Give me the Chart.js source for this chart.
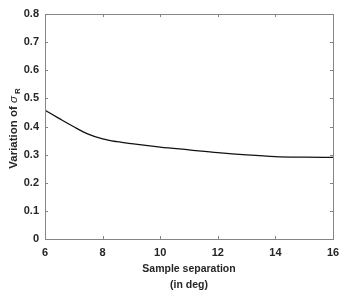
<!DOCTYPE html>
<html>
<head>
<meta charset="utf-8">
<script src="https://cdn.jsdelivr.net/npm/chart.js@4.4.0/dist/chart.umd.min.js"></script>
<style>
  html, body { margin: 0; padding: 0; background: #fff; }
  #wrap { width: 356px; height: 303px; position: relative; }
</style>
</head>
<body>
<div id="wrap"><canvas id="chart"></canvas></div>
<script>
// values
const separation = [6, 6.5, 7, 7.5, 8, 8.5, 9, 10, 11, 12, 13, 14, 15, 16];
const variation = [0.458, 0.428, 0.399, 0.373, 0.356, 0.346, 0.339, 0.327, 0.317, 0.307, 0.299, 0.293, 0.291, 0.290];
const xTicks = [6, 8, 10, 12, 14, 16];
const yTicks = [0, 0.1, 0.2, 0.3, 0.4, 0.5, 0.6, 0.7, 0.8];

const axisGray = '#858585';
const textColor = '#262626';
const fontFam = 'Arial, "Liberation Sans", sans-serif';

// box round the plot with short ticks pointing inward (matlab style)
const boxPlugin = {
  id: 'box',
  afterDraw(chart) {
    const ctx = chart.ctx;
    const a = chart.chartArea;
    const xs = chart.scales.x, ys = chart.scales.y;
    ctx.save();
    ctx.strokeStyle = axisGray;
    ctx.lineWidth = 1;
    ctx.strokeRect(Math.round(a.left) + 0.5, Math.round(a.top) + 0.5,
      Math.round(a.right - a.left), Math.round(a.bottom - a.top));
    ctx.beginPath();
    xTicks.forEach(v => {
      const px = Math.round(xs.getPixelForValue(v)) + 0.5;
      ctx.moveTo(px, a.bottom); ctx.lineTo(px, a.bottom - 3);
      ctx.moveTo(px, a.top); ctx.lineTo(px, a.top + 3);
    });
    yTicks.forEach(v => {
      const py = Math.round(ys.getPixelForValue(v)) + 0.5;
      ctx.moveTo(a.left, py); ctx.lineTo(a.left + 3, py);
      ctx.moveTo(a.right, py); ctx.lineTo(a.right - 3, py);
    });
    ctx.stroke();

    // y axis title with sigma subscript R
    ctx.translate(14, (a.top + a.bottom) / 2 + 2);
    ctx.rotate(-Math.PI / 2);
    ctx.fillStyle = textColor;
    ctx.textBaseline = 'middle';
    const p1 = 'Variation of ';
    const bold = 'bold 11.5px ' + fontFam;
    const ital = 'italic 11.5px ' + fontFam;
    const sub = 'bold 8px ' + fontFam;
    ctx.font = bold; const w1 = ctx.measureText(p1).width;
    ctx.font = ital; const w2 = ctx.measureText('σ').width;
    ctx.font = sub; const w3 = ctx.measureText('R').width;
    let x = -(w1 + w2 + 2 + w3) / 2;
    ctx.font = bold; ctx.fillText(p1, x, 0); x += w1;
    ctx.font = ital; ctx.fillText('σ', x, 0); x += w2 + 2;
    ctx.font = sub; ctx.fillText('R', x, 4);
    ctx.restore();
  }
};

new Chart(document.getElementById('chart'), {
  type: 'line',
  data: {
    datasets: [{
      data: separation.map((s, i) => ({ x: s, y: variation[i] })),
      borderColor: '#111',
      borderWidth: 1.3,
      pointRadius: 0,
      cubicInterpolationMode: 'monotone',
      fill: false
    }]
  },
  options: {
    responsive: true,
    maintainAspectRatio: false,
    animation: false,
    layout: { padding: { top: 14, right: 23, left: 0, bottom: 0 } },
    plugins: { legend: { display: false }, tooltip: { enabled: false } },
    scales: {
      x: {
        type: 'linear',
        min: 6, max: 16,
        afterBuildTicks: s => { s.ticks = xTicks.map(v => ({ value: v })); },
        afterFit: s => { s.height = 64; },
        grid: { display: false, drawTicks: false },
        border: { display: false },
        ticks: {
          color: textColor,
          padding: 7,
          font: { family: fontFam, size: 11, weight: 'bold' },
          maxRotation: 0
        },
        title: {
          display: true,
          text: ['Sample separation', '(in deg)'],
          color: textColor,
          font: { family: fontFam, size: 10.5, weight: 'bold', lineHeight: 1.5 },
          padding: { top: 0, bottom: 10 }
        }
      },
      y: {
        type: 'linear',
        min: 0, max: 0.8,
        afterBuildTicks: s => { s.ticks = yTicks.map(v => ({ value: v })); },
        afterFit: s => { s.width = 45; },
        grid: { display: false, drawTicks: false },
        border: { display: false },
        ticks: {
          color: textColor,
          padding: 6,
          font: { family: fontFam, size: 11, weight: 'bold' },
          callback: v => v === 0 ? '0' : v.toFixed(1)
        }
      }
    }
  },
  plugins: [boxPlugin]
});
</script>
</body>
</html>
